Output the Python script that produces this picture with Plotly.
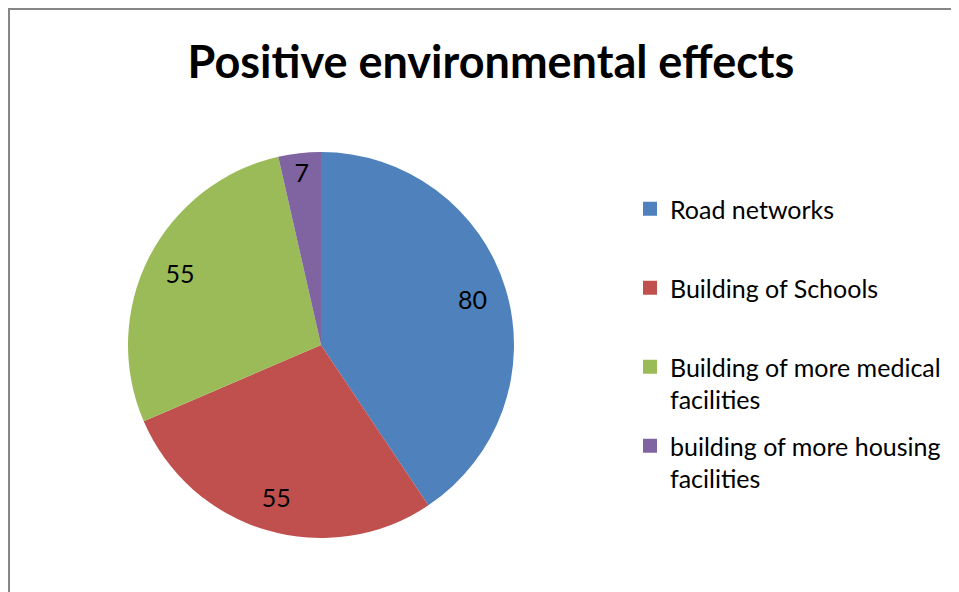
import plotly.graph_objects as go

categories = ["Road networks", "Building of Schools",
              "Building of more medical facilities",
              "building of more housing facilities"]
legend_labels = ["Road networks<br> ", "Building of Schools<br> ",
                 "Building of more medical<br>facilities",
                 "building of more housing<br>facilities"]
values = [80, 55, 55, 7]
colors = ["#4F81BD", "#C0504D", "#9BBB59", "#8064A2"]

font_name = "Lato"
W, H = 959, 592
pie_dom = dict(x=[120 / W, 506 / W], y=[62 / H, 448 / H])

fig = go.Figure()

# coloured slices
fig.add_trace(go.Pie(
    labels=categories, values=values,
    marker=dict(colors=colors, line=dict(width=0)),
    sort=False, direction="clockwise", rotation=0,
    textinfo="none", domain=pie_dom, showlegend=False,
))

# transparent ring on top just to carry the value labels further out
fig.add_trace(go.Pie(
    labels=categories, values=values, hole=0.64,
    marker=dict(colors=["rgba(0,0,0,0)"] * len(values), line=dict(width=0)),
    sort=False, direction="clockwise", rotation=0,
    textinfo="value", textposition="inside",
    insidetextorientation="horizontal",
    textfont=dict(family=font_name, size=25, color="black"),
    domain=pie_dom, showlegend=False, hoverinfo="skip",
))

# legend entries (one per category)
for lab, col in zip(legend_labels, colors):
    fig.add_trace(go.Scatter(
        x=[None], y=[None], mode="markers", name=lab,
        marker=dict(symbol="square", size=14, color=col),
        legendgroup=lab,
    ))

fig.update_layout(
    width=W, height=H,
    margin=dict(l=0, r=0, t=0, b=0),
    paper_bgcolor="white", plot_bgcolor="white",
    xaxis=dict(visible=False), yaxis=dict(visible=False),
    title=dict(text="<b>Positive environmental effects</b>",
               x=483 / W, xanchor="center", y=1 - 54 / H, yanchor="middle",
               font=dict(family=font_name, size=45, color="black")),
    legend=dict(x=622 / W, y=1 - 178 / H, xanchor="left", yanchor="top",
                valign="top", tracegroupgap=11,
                font=dict(family=font_name, size=25, color="black"),
                bgcolor="rgba(0,0,0,0)"),
    shapes=[dict(type="rect", xref="paper", yref="paper",
                 x0=1 / W, x1=1.05, y0=-0.05, y1=1 - 1 / H,
                 line=dict(color="#868686", width=2))],
)

fig.write_html("out.html")
